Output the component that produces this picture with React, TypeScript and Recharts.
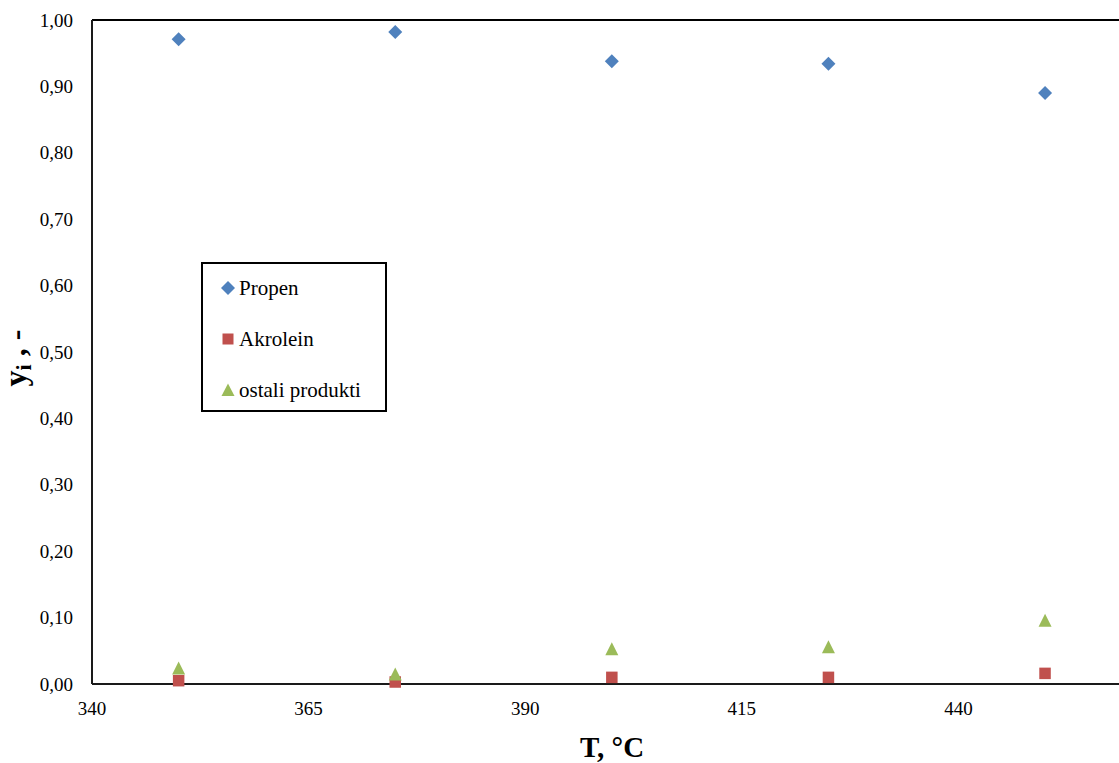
import React from "react";
import { ScatterChart, Scatter, XAxis, YAxis, ReferenceLine } from "recharts";

const temperatures = [350, 375, 400, 425, 450];
const propen = [0.971, 0.982, 0.938, 0.934, 0.89];
const akrolein = [0.005, 0.003, 0.01, 0.01, 0.016];
const ostaliProdukti = [0.024, 0.015, 0.053, 0.056, 0.096];

const xTicks = [340, 365, 390, 415, 440];
const yTicks = [0, 0.1, 0.2, 0.3, 0.4, 0.5, 0.6, 0.7, 0.8, 0.9, 1];

const seriesNames = ["Propen", "Akrolein", "ostali produkti"];

const toPoints = (ys: number[]) =>
  temperatures.map((t, i) => ({ t, y: ys[i] }));

const BLUE = "#4F81BD";
const RED = "#C0504D";
const GREEN = "#9BBB59";
const FONT = "Liberation Serif";

const Diamond = (props: any) => {
  const { cx, cy } = props;
  const r = 7;
  return (
    <polygon
      points={`${cx},${cy - r} ${cx + r},${cy} ${cx},${cy + r} ${cx - r},${cy}`}
      fill={BLUE}
    />
  );
};

const Square = (props: any) => {
  const { cx, cy } = props;
  const s = 11.5;
  return <rect x={cx - s / 2} y={cy - s / 2} width={s} height={s} fill={RED} />;
};

const Triangle = (props: any) => {
  const { cx, cy } = props;
  const w = 13;
  const h = 13;
  return (
    <polygon
      points={`${cx},${cy - h / 2} ${cx + w / 2},${cy + h / 2} ${cx - w / 2},${cy + h / 2}`}
      fill={GREEN}
    />
  );
};

const XTick = (props: any) => {
  const { x, y, payload } = props;
  return (
    <text x={x} y={y + 23} textAnchor="middle" fontFamily={FONT} fontSize={19} fill="#000">
      {payload.value}
    </text>
  );
};

const YTick = (props: any) => {
  const { x, y, payload } = props;
  return (
    <text x={x - 11} y={y + 6.5} textAnchor="end" fontFamily={FONT} fontSize={19} fill="#000">
      {Number(payload.value).toFixed(2).replace(".", ",")}
    </text>
  );
};

// legend box drawn over the plot, like the one in the spreadsheet
function LegendBox() {
  const icons = [
    <polygon key="d" points="7,0 14,7 7,14 0,7" fill={BLUE} />,
    <rect key="s" x={1.5} y={1.5} width={11} height={11} fill={RED} />,
    <polygon key="t" points="7,0.5 13.5,13 0.5,13" fill={GREEN} />,
  ];
  return (
    <div
      style={{
        position: "absolute",
        left: 201,
        top: 262,
        boxSizing: "border-box",
        width: 186,
        height: 150,
        border: "2px solid #000",
        background: "#fff",
        fontFamily: FONT,
        fontSize: 21,
        color: "#000",
      }}
    >
      {seriesNames.map((name, i) => (
        <div
          key={name}
          style={{
            position: "absolute",
            left: 18,
            top: 24 + i * 51 - 14,
            height: 28,
            display: "flex",
            alignItems: "center",
            whiteSpace: "nowrap",
          }}
        >
          <svg width={14} height={14} style={{ marginRight: 4 }}>
            {icons[i]}
          </svg>
          <span>{name}</span>
        </div>
      ))}
    </div>
  );
}

export default function App() {
  return (
    <div
      style={{
        position: "fixed",
        left: 0,
        top: 0,
        width: 1119,
        height: 763,
        overflow: "hidden",
        background: "#fff",
        fontFamily: FONT,
      }}
    >
      <ScatterChart
        width={1175}
        height={763}
        margin={{ top: 20, right: 0, bottom: 0, left: 0 }}
      >
        <XAxis
          type="number"
          dataKey="t"
          domain={[340, 465]}
          ticks={xTicks}
          tickLine={false}
          height={79}
          axisLine={{ stroke: "#1a1a1a", strokeWidth: 2 }}
          tick={<XTick />}
        />
        <YAxis
          type="number"
          dataKey="y"
          domain={[0, 1]}
          ticks={yTicks}
          width={92}
          tickLine={false}
          axisLine={{ stroke: "#1a1a1a", strokeWidth: 2 }}
          tick={<YTick />}
        />
        <ReferenceLine y={1} stroke="#000" strokeWidth={2} />
        <Scatter
          name={seriesNames[0]}
          data={toPoints(propen)}
          shape={<Diamond />}
          isAnimationActive={false}
        />
        <Scatter
          name={seriesNames[1]}
          data={toPoints(akrolein)}
          shape={<Square />}
          isAnimationActive={false}
        />
        <Scatter
          name={seriesNames[2]}
          data={toPoints(ostaliProdukti)}
          shape={<Triangle />}
          isAnimationActive={false}
        />
        <text
          x={612}
          y={757}
          textAnchor="middle"
          fontFamily={FONT}
          fontWeight="bold"
          fontSize={29}
          fill="#000"
        >
          T, °C
        </text>
        <text
          x={26}
          y={358}
          transform="rotate(-90 26 358)"
          textAnchor="middle"
          fontFamily={FONT}
          fontWeight="bold"
          fontSize={32}
          fill="#000"
        >
          <tspan>y</tspan>
          <tspan fontSize={22} dy={5}>
            i
          </tspan>
          <tspan dy={-5}> , -</tspan>
        </text>
      </ScatterChart>
      <LegendBox />
    </div>
  );
}
